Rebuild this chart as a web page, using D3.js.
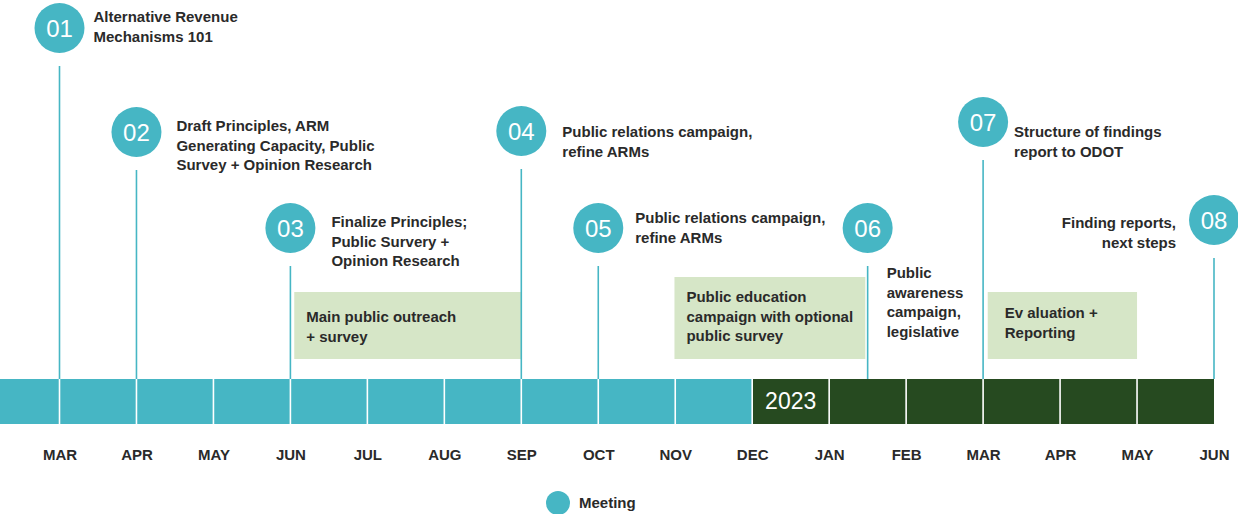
<!DOCTYPE html>
<html>
<head>
<meta charset="utf-8">
<script src="https://cdn.jsdelivr.net/npm/d3@7"></script>
<style>
  html, body { margin: 0; padding: 0; background: #fff; }
  svg { display: block; }
  text { font-family: "Liberation Sans", Arial, sans-serif; }
</style>
</head>
<body>
<svg id="chart" width="1238" height="514"></svg>
<script>
// ---------- DATA ----------
const months = ["MAR","APR","MAY","JUN","JUL","AUG","SEP","OCT","NOV","DEC","JAN","FEB","MAR","APR","MAY","JUN"];
const yearStartIndex = 9;          // dark segment starts at DEC
const yearLabel = "2023";
const milestoneIds = ["01","02","03","04","05","06","07","08"];
const milestoneMonth = [0, 1, 3, 6, 7, 10.5, 12, 15];
const milestoneText = [
  ["Alternative Revenue", "Mechanisms 101"],
  ["Draft Principles, ARM", "Generating Capacity, Public", "Survey + Opinion Research"],
  ["Finalize Principles;", "Public Survery +", "Opinion Research"],
  ["Public relations campaign,", "refine ARMs"],
  ["Public relations campaign,", "refine ARMs"],
  ["Public", "awareness", "campaign,", "legislative"],
  ["Structure of findings", "report to ODOT"],
  ["Finding reports,", "next steps"]
];
const phaseStart = [3.05, 7.99, 12.06];
const phaseEnd = [6.0, 10.47, 14.0];
const phaseText = [
  ["Main public outreach", "+ survey"],
  ["Public education", "campaign with optional", "public survey"],
  ["Ev aluation +", "Reporting"]
];
const legendLabel = "Meeting";

// ---------- LAYOUT / STYLE ----------
const W = 1238, H = 514;
const teal = "#46b6c4", dark = "#264a20", boxFill = "#d6e6c7", ink = "#2a2a2a";
const barTop = 379, barH = 45;
const R = 25;
// circle centre y, text anchor / offsets per milestone
const mLayout = [
  {cy: 28,  tx: 34, ty: 22,  anchor: "start"},
  {cy: 132, tx: 40, ty: 131, anchor: "start"},
  {cy: 228, tx: 41, ty: 227, anchor: "start"},
  {cy: 131, tx: 41, ty: 137, anchor: "start"},
  {cy: 228, tx: 37, ty: 223, anchor: "start"},
  {cy: 228, tx: 19, ty: 278, anchor: "start"},
  {cy: 122, tx: 31, ty: 137, anchor: "start"},
  {cy: 220, tx: -38, ty: 228, anchor: "end"}
];
const phaseLayout = [
  {top: 292, bottom: 359, ty: 322, tx: 12},
  {top: 277, bottom: 359, ty: 302, tx: 12},
  {top: 292, bottom: 359, ty: 318, tx: 17}
];
const lineH = 19.5;

const svg = d3.select("#chart");
const x = d3.scaleLinear().domain([0, months.length - 1]).range([59.5, 1214]);

// ---------- BAR ----------
const segIdx = d3.range(-1, months.length - 1);
svg.append("g").selectAll("rect").data(segIdx).join("rect")
  .attr("x", d => Math.max(0, x(d)))
  .attr("y", barTop)
  .attr("width", d => x(d + 1) - Math.max(0, x(d)))
  .attr("height", barH)
  .attr("fill", d => d >= yearStartIndex ? dark : teal);

// white month dividers
svg.append("g").selectAll("line").data(d3.range(0, months.length - 1)).join("line")
  .attr("x1", d => x(d)).attr("x2", d => x(d))
  .attr("y1", barTop).attr("y2", barTop + barH)
  .attr("stroke", "#fff").attr("stroke-width", 1.6);

svg.append("text")
  .attr("x", (x(yearStartIndex) + x(yearStartIndex + 1)) / 2)
  .attr("y", barTop + 30)
  .attr("text-anchor", "middle")
  .attr("fill", "#fff")
  .attr("font-size", 23)
  .text(yearLabel);

// ---------- AXIS ----------
const axis = d3.axisBottom(x)
  .tickValues(d3.range(months.length))
  .tickFormat(i => months[i])
  .tickSize(0).tickPadding(0);
const ag = svg.append("g").attr("transform", `translate(0,${barTop + barH})`).call(axis);
ag.select(".domain").remove();
ag.selectAll("text")
  .attr("dy", null).attr("y", 36)
  .attr("font-family", "Liberation Sans, Arial, sans-serif")
  .attr("font-size", 15).attr("font-weight", "bold")
  .attr("fill", ink);

// ---------- PHASE BOXES ----------
const pg = svg.append("g");
phaseText.forEach((lines, i) => {
  const L = phaseLayout[i];
  pg.append("rect")
    .attr("x", x(phaseStart[i])).attr("y", L.top)
    .attr("width", x(phaseEnd[i]) - x(phaseStart[i]))
    .attr("height", L.bottom - L.top)
    .attr("fill", boxFill);
  const t = pg.append("text")
    .attr("font-size", 15).attr("font-weight", "bold").attr("fill", ink);
  lines.forEach((s, j) => t.append("tspan").attr("x", x(phaseStart[i]) + L.tx).attr("y", L.ty + j * lineH).text(s));
});

// ---------- MILESTONES ----------
const mg = svg.append("g");
milestoneIds.forEach((id, i) => {
  const L = mLayout[i];
  const cx = x(milestoneMonth[i]);
  mg.append("line")
    .attr("x1", cx).attr("x2", cx)
    .attr("y1", L.cy + R + 13).attr("y2", barTop)
    .attr("stroke", teal).attr("stroke-width", 1.6);
  mg.append("circle").attr("cx", cx).attr("cy", L.cy).attr("r", R).attr("fill", teal);
  mg.append("text")
    .attr("x", cx).attr("y", L.cy + 8.5)
    .attr("text-anchor", "middle").attr("fill", "#fff")
    .attr("font-size", 24)
    .text(id);
  const t = mg.append("text")
    .attr("text-anchor", L.anchor)
    .attr("font-size", 15).attr("font-weight", "bold").attr("fill", ink);
  milestoneText[i].forEach((s, j) =>
    t.append("tspan").attr("x", cx + L.tx).attr("y", L.ty + j * lineH).text(s));
});

// ---------- LEGEND ----------
const lg = svg.append("g");
lg.append("circle").attr("cx", 558).attr("cy", 503).attr("r", 12).attr("fill", teal);
lg.append("text").attr("x", 579).attr("y", 508)
  .attr("font-size", 15).attr("font-weight", "bold").attr("fill", ink)
  .text(legendLabel);
</script>
</body>
</html>
